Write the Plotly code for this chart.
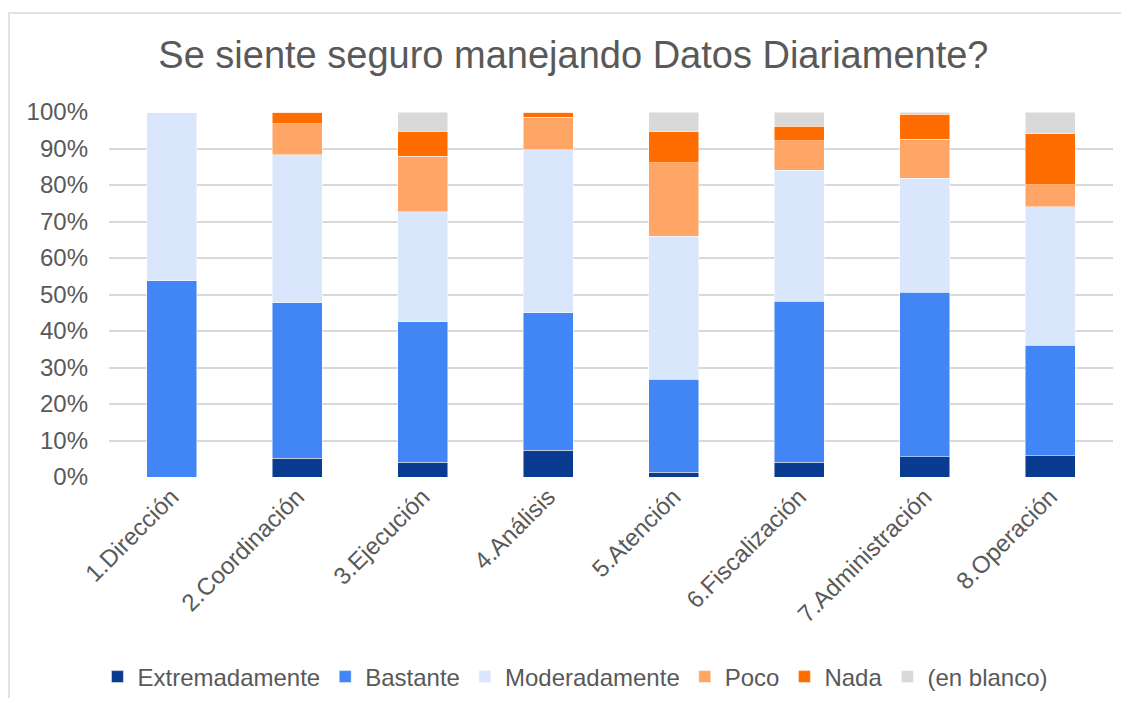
import plotly.graph_objects as go

TEXT = "#595959"
GRID = "#d9d9d9"
FONT = "Liberation Sans, Arial, sans-serif"

areas = ["1.Dirección", "2.Coordinación", "3.Ejecución", "4.Análisis",
         "5.Atención", "6.Fiscalización", "7.Administración", "8.Operación"]

extremadamente = [0.0, 5.2, 4.1, 7.3, 1.3, 4.1, 5.5, 5.8]
bastante       = [53.8, 42.6, 38.4, 37.7, 25.5, 44.0, 45.1, 30.3]
moderadamente  = [46.2, 40.5, 30.2, 44.7, 39.1, 35.9, 31.2, 38.0]
poco           = [0.0, 8.5, 15.2, 8.9, 20.2, 8.1, 10.7, 6.0]
nada           = [0.0, 3.2, 6.8, 1.4, 8.5, 4.0, 6.9, 14.0]
en_blanco      = [0.0, 0.0, 5.3, 0.0, 5.4, 3.9, 0.6, 5.9]

series = [
    ("Extremadamente", extremadamente, "#0b3b91"),
    ("Bastante",       bastante,       "#4285f4"),
    ("Moderadamente",  moderadamente,  "#d9e6fb"),
    ("Poco",           poco,           "#ffa666"),
    ("Nada",           nada,           "#ff6d00"),
    ("(en blanco)",    en_blanco,      "#d9d9d9"),
]

fig = go.Figure()
for name, vals, color in series:
    fig.add_trace(go.Bar(
        x=areas, y=vals, name=name,
        marker=dict(color=color, line=dict(color="rgba(255,255,255,0.6)", width=0.8)),
    ))

# the page body keeps the browser's 8px margin, so keep the figure inside the window
fig.update_layout(
    barmode="stack", bargap=0.6,
    width=1113, height=690,
    margin=dict(l=101, r=8, t=104, b=221),
    paper_bgcolor="white", plot_bgcolor="white",
    font=dict(family=FONT, size=24, color=TEXT),
    title=dict(text="Se siente seguro manejando Datos Diariamente?",
               font=dict(size=38, color=TEXT),
               x=0.508, xanchor="center", y=0.933, yanchor="middle"),
    xaxis=dict(tickangle=-45, showgrid=False, zeroline=False, showline=False,
               tickfont=dict(size=24, color=TEXT)),
    yaxis=dict(range=[0, 100], dtick=10, ticksuffix="%", gridcolor=GRID,
               gridwidth=1.5, zeroline=False, showline=False,
               ticklabelstandoff=20, tickfont=dict(size=24, color=TEXT)),
    legend=dict(orientation="h", x=0.4646, xanchor="center",
                yref="container", y=0.0304, yanchor="middle",
                font=dict(size=24, color=TEXT),
                itemwidth=30, traceorder="normal"),
    shapes=[dict(type="rect", xref="paper", yref="paper",
                 x0=-0.0996, x1=1.2, y0=-0.8, y1=1.271,
                 line=dict(color=GRID, width=1.5), layer="below")],
)

fig.write_html("out.html")
